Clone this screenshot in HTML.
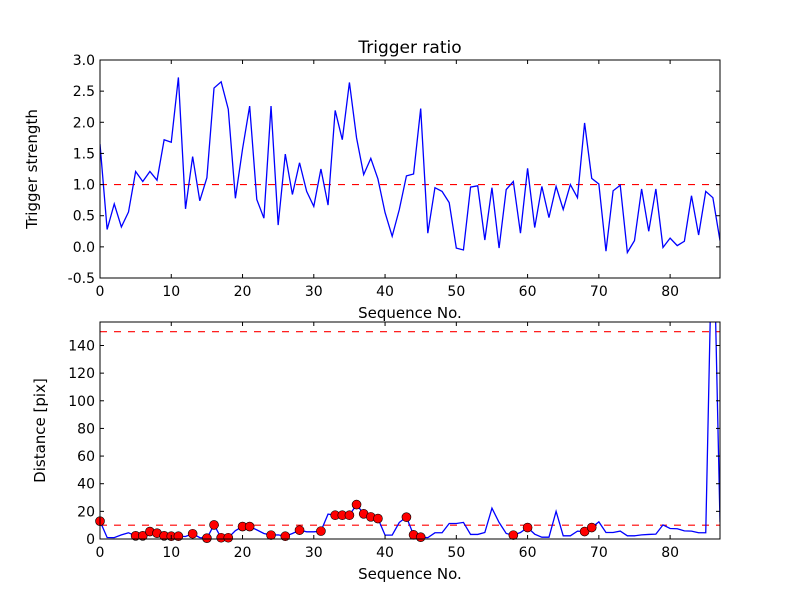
<!DOCTYPE html>
<html><head><meta charset="utf-8"><style>
html,body{margin:0;padding:0;background:#fff;}
svg{display:block;font-family:"DejaVu Sans","Liberation Sans",sans-serif;}
</style></head><body>
<svg id="fig" width="800" height="600" viewBox="0 0 800 600" xmlns="http://www.w3.org/2000/svg">
<rect width="800" height="600" fill="#fff"/>
</svg>
<script>
const trigger = [1.65,0.28,0.69,0.32,0.56,1.21,1.05,1.21,1.07,1.72,1.68,2.72,0.61,1.45,0.74,1.11,2.55,2.65,2.21,0.78,1.57,2.26,0.76,0.46,2.26,0.35,1.49,0.84,1.35,0.89,0.65,1.25,0.67,2.19,1.72,2.64,1.75,1.16,1.42,1.09,0.55,0.17,0.60,1.14,1.17,2.22,0.22,0.95,0.89,0.71,-0.02,-0.05,0.96,0.98,0.11,0.95,-0.02,0.92,1.05,0.22,1.26,0.31,0.97,0.47,0.97,0.60,1.00,0.79,1.99,1.10,1.01,-0.07,0.90,0.99,-0.09,0.10,0.93,0.25,0.93,-0.01,0.14,0.02,0.09,0.82,0.19,0.89,0.79,0.10];
const distance = [12.9,1.1,1,3,4.5,2.3,2.3,5.4,4.2,2.3,2,2,1.8,3.8,1,0.6,10.2,0.9,0.9,6,9,9,6.6,4,2.8,3,2,4,6.4,5.2,5.2,5.7,18,17.2,17.2,17.2,24.9,18.2,16,14.8,2.8,2.8,12,15.8,3,1.3,1,4.5,4.5,11.2,11.2,12,3.3,3.3,4.7,22.3,12,4,2.8,4.7,8.3,3.5,1.3,1.3,20,2.3,2.3,5.7,5.4,8.3,12.4,4.7,4.7,5.7,2.3,2.3,3,3.3,3.5,10.2,7.6,7.4,5.9,5.7,4.5,4.5,250,12];
const markerIdx = [0,5,6,7,8,9,10,11,13,15,16,17,18,20,21,24,26,28,31,33,34,35,36,37,38,39,43,44,45,58,60,68,69];
const xTicks = [0,10,20,30,40,50,60,70,80];
const topYTicks = [-0.5,0,0.5,1,1.5,2,2.5,3];
const botYTicks = [0,20,40,60,80,100,120,140];
const topThreshold = 1;
const botThresholds = [10,150];

const NS="http://www.w3.org/2000/svg";
const svg=document.getElementById('fig');
function el(tag,attrs,parent){const e=document.createElementNS(NS,tag);for(const k in attrs)e.setAttribute(k,attrs[k]);(parent||svg).appendChild(e);return e;}

function makeAxes(name,L,T,W,H,xmin,xmax,ymin,ymax){
  const g=el('g',{});
  
  
  const sx=v=>L+(v-xmin)/(xmax-xmin)*W;
  const sy=v=>T+H-(v-ymin)/(ymax-ymin)*H;
  const cp='clip-'+name;
  const defs=el('defs',{},g);
  const c=el('clipPath',{id:cp},defs);
  el('rect',{x:L,y:T,width:W,height:H},c);
  return {g,sx,sy,L,T,W,H,cp};
}
function frame(ax,yTicks,yFmt,yLabel,xLabel,yLabX){
  const g=ax.g;
  el('rect',{x:ax.L,y:ax.T,width:ax.W,height:ax.H,fill:'none',stroke:'#000','stroke-width':1},g);
  xTicks.forEach(t=>{
    const x=ax.sx(t);
    el('line',{x1:x,x2:x,y1:ax.T+ax.H,y2:ax.T+ax.H-4,stroke:'#000'},g);
    el('line',{x1:x,x2:x,y1:ax.T,y2:ax.T+4,stroke:'#000'},g);
    const tx=el('text',{x:x,y:ax.T+ax.H+18,'text-anchor':'middle','font-size':14},g);
    
    
    tx.textContent=t;
  });
  yTicks.forEach(t=>{
    const y=ax.sy(t);
    el('line',{x1:ax.L,x2:ax.L+4,y1:y,y2:y,stroke:'#000'},g);
    el('line',{x1:ax.L+ax.W,x2:ax.L+ax.W-4,y1:y,y2:y,stroke:'#000'},g);
    const tx=el('text',{x:ax.L-5,y:y+5,'text-anchor':'end','font-size':14},g);
    
    
    tx.textContent=yFmt(t);
  });
  const yl=el('text',{x:yLabX,y:ax.T+ax.H/2,'text-anchor':'middle','font-size':15,transform:`rotate(-90 ${yLabX} ${ax.T+ax.H/2})`},g);
  
  
  yl.textContent=yLabel;
  const xl=el('text',{x:ax.L+ax.W/2,y:ax.T+ax.H+40,'text-anchor':'middle','font-size':15},g);
  
  
  xl.textContent=xLabel;
}

// Top axes
const a1=makeAxes('trigger-axes',100,60,620,218,0,87,-0.5,3.0);
const hl1=el('line',{x1:a1.L,x2:a1.L+a1.W,y1:a1.sy(topThreshold),y2:a1.sy(topThreshold),stroke:'#f00','stroke-dasharray':'7,7','stroke-width':1.2},a1.g);


const p1=el('polyline',{points:trigger.map((v,i)=>a1.sx(i)+','+a1.sy(v)).join(' '),fill:'none',stroke:'#00f','stroke-width':1.3,'clip-path':'url(#'+a1.cp+')'},a1.g);


frame(a1,topYTicks,t=>t.toFixed(1),'Trigger strength','Sequence No.',37);
const title=el('text',{x:410,y:53,'text-anchor':'middle','font-size':17});


title.textContent='Trigger ratio';

// Bottom axes
const a2=makeAxes('distance-axes',100,322,620,217,0,87,0,157);
botThresholds.forEach(v=>{
  const l=el('line',{x1:a2.L,x2:a2.L+a2.W,y1:a2.sy(v),y2:a2.sy(v),stroke:'#f00','stroke-dasharray':'7,7','stroke-width':1.2},a2.g);
  
  
});
const p2=el('polyline',{points:distance.map((v,i)=>a2.sx(i)+','+a2.sy(v)).join(' '),fill:'none',stroke:'#00f','stroke-width':1.3,'clip-path':'url(#'+a2.cp+')'},a2.g);


const mg=el('g',{'clip-path':'url(#'+a2.cp+'-m)'},a2.g);
markerIdx.forEach(i=>{
  const m=el('circle',{cx:a2.sx(i),cy:a2.sy(distance[i]),r:4.5,fill:'#f00',stroke:'#000','stroke-width':0.6},a2.g);
  
  
});
frame(a2,botYTicks,t=>String(t),'Distance [pix]','Sequence No.',45);
</script>
</body></html>
